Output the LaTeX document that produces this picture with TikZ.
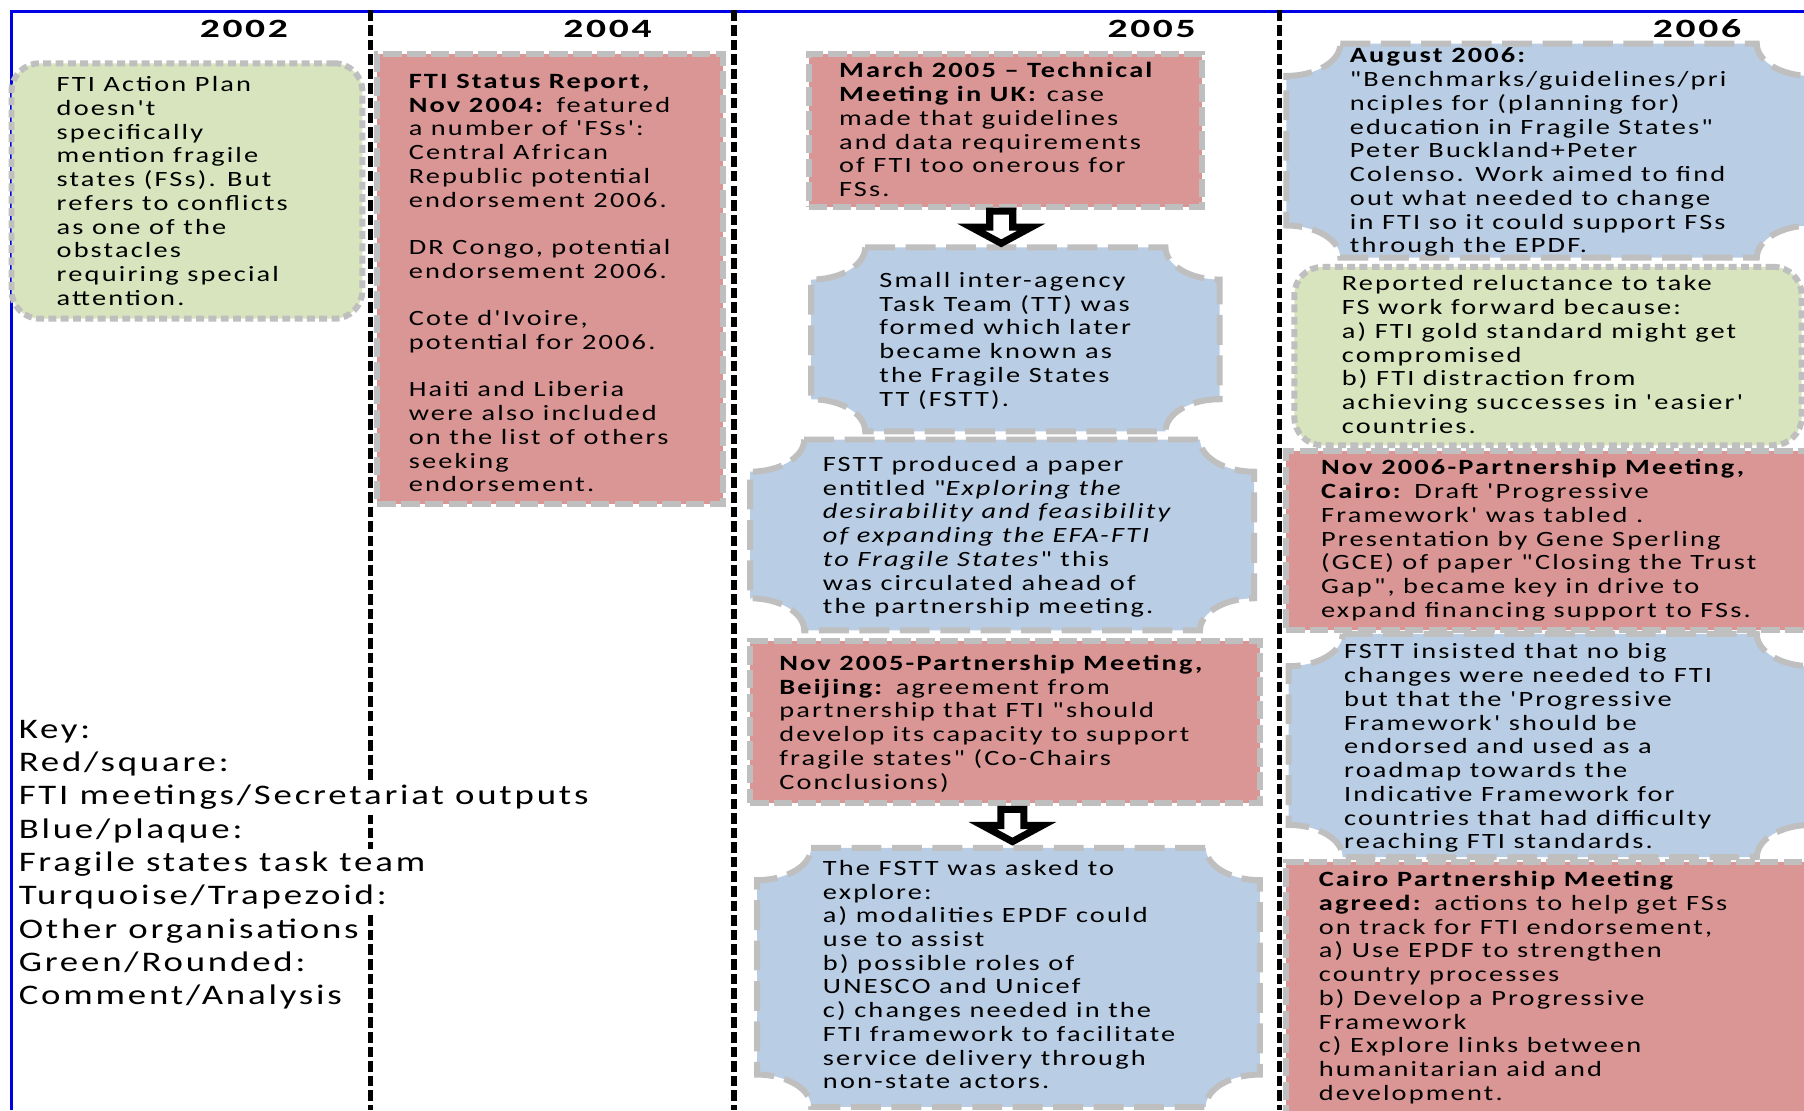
\documentclass[tikz,border=0pt]{standalone}
\usepackage{fontspec}
\setmainfont{Carlito}[Ligatures=TeXOff, FakeStretch=1.3, LetterSpace=10]
\usepackage{xcolor}
\usetikzlibrary{calc,fit,positioning}

\definecolor{redfill}{HTML}{D99694}
\definecolor{bluefill}{HTML}{B9CDE5}
\definecolor{greenfill}{HTML}{D7E4BD}
\definecolor{boxgrey}{HTML}{BFBFBF}
\definecolor{frameblue}{RGB}{0,0,230}

% corner sizes of the plaque boxes
\def\prx{47}
\def\pry{28}
\newcommand\plaque[1]{%
  \draw[bluebox] ($(#1.north west)+(\prx,0)$) -- ($(#1.north east)+(-\prx,0)$)
    .. controls ($(#1.north east)+(-\prx,.55*\pry)$) and ($(#1.north east)+(-.55*\prx,\pry)$) .. ($(#1.north east)+(0,\pry)$)
    -- ($(#1.south east)+(0,-\pry)$)
    .. controls ($(#1.south east)+(-.55*\prx,-\pry)$) and ($(#1.south east)+(-\prx,-.55*\pry)$) .. ($(#1.south east)+(-\prx,0)$)
    -- ($(#1.south west)+(\prx,0)$)
    .. controls ($(#1.south west)+(\prx,-.55*\pry)$) and ($(#1.south west)+(.55*\prx,-\pry)$) .. ($(#1.south west)+(0,-\pry)$)
    -- ($(#1.north west)+(0,\pry)$)
    .. controls ($(#1.north west)+(.55*\prx,\pry)$) and ($(#1.north west)+(\prx,.55*\pry)$) .. cycle;}

\tikzset{
  boxline/.style={draw=boxgrey, line width=3.4pt},
  redbox/.style={boxline, fill=redfill, dash pattern=on 10.5pt off 3pt, inner sep=0pt, outer sep=0pt},
  bluebox/.style={boxline, fill=bluefill, dash pattern=on 17pt off 6pt},
  greenbox/.style={boxline, fill=greenfill, dash pattern=on 4.5pt off 2.5pt, rounded corners=16pt, inner sep=0pt, outer sep=0pt},
  area/.style={inner sep=0pt, outer sep=0pt},
  boxtext/.style={anchor=north west, align=left, inner sep=0pt, font=\fontsize{12.4}{13.5}\selectfont},
  year/.style={font=\fontsize{15}{17}\selectfont\bfseries\addfontfeature{FakeStretch=1.5}},
  colline/.style={line width=3.2pt, dash pattern=on 6pt off 2.3pt},
  frameline/.style={draw=frameblue, line width=1.2pt},
  keyline/.style={anchor=base west, fill=white, inner xsep=0pt, inner ysep=0pt, text height=13pt, text depth=6pt, font=\fontsize{16.1}{19}\selectfont},
  blockarrow/.style={draw=black, fill=white, line width=4pt},
  downblock/.pic={\draw[blockarrow] (-10,-14) -- (-10,0) -- (-26,0) -- (0,14) -- (26,0) -- (10,0) -- (10,-14) -- cycle;}
}

\begin{document}
\begin{tikzpicture}[x=0.023cm, y=-0.023cm]
\useasboundingbox (0,0) rectangle (1568,965);
\clip (0,0) rectangle (1568,965);

% frame and year columns
\draw[frameline] (10,965) -- (10,10) -- (1568,10);
\foreach \x in {322,638,1112}
  \draw[colline] (\x,9) -- (\x,965);

\node[year] (y2002) at (212,25) {2002};
\node[year] (y2004) at (528,25) {2004};
\node[year] (y2005) at (1001,25) {2005};
\node[year] (y2006) at (1475,25) {2006};

% 2002
\node[greenbox, fit={(10,55) (315,277)}] (plan) {};
\node[boxtext] (plantxt) at (49,65) {\strut FTI Action Plan\\doesn't\\specifically\\mention fragile\\states (FSs). But\\refers to conflicts\\as one of the\\obstacles\\requiring special\\attention.};

% 2004
\node[redbox, fit={(328,47) (628,438)}] (status) {};
\node[boxtext] (statustxt) at (355,62) {\strut\textbf{FTI Status Report,}\\\textbf{Nov 2004:} featured\\a number of 'FSs':\\Central African\\Republic potential\\endorsement 2006.\\[13.5pt]DR Congo, potential\\endorsement 2006.\\[13.5pt]Cote d'Ivoire,\\potential for 2006.\\[13.5pt]Haiti and Liberia\\were also included\\on the list of others\\seeking\\endorsement.};

% 2005
\node[redbox, fit={(703,47) (1045,180)}] (march) {};
\node[boxtext] (marchtxt) at (729,53) {\strut\textbf{March 2005 – Technical}\\\textbf{Meeting in UK:} case\\made that guidelines\\and data requirements\\of FTI too onerous for\\FSs.};

\node[area, fit={(705,215) (1060,375)}] (tteam) {};
\plaque{tteam}
\node[boxtext] (tteamtxt) at (764,235) {\strut Small inter-agency\\Task Team (TT) was\\formed which later\\became known as\\the Fragile States\\TT (FSTT).};

\node[area, fit={(652,382) (1090,548)}] (paper) {};
\plaque{paper}
\node[boxtext] (papertxt) at (715,395) {\strut FSTT produced a paper\\entitled "\textit{Exploring the}\\\textit{desirability and feasibility}\\\textit{of expanding the EFA-FTI}\\\textit{to Fragile States}" this\\was circulated ahead of\\the partnership meeting.};

\node[redbox, fit={(652,557) (1095,698)}] (beijing) {};
\node[boxtext] (beijingtxt) at (677,568) {\strut\textbf{Nov 2005-Partnership Meeting,}\\\textbf{Beijing:} agreement from\\partnership that FTI "should\\develop its capacity to support\\fragile states" (Co-Chairs\\Conclusions)};

\node[area, fit={(658,737) (1095,962)}] (asked) {};
\plaque{asked}
\node[boxtext] (askedtxt) at (715,746) {\strut The FSTT was asked to\\explore:\\a) modalities EPDF could\\use to assist\\b) possible roles of\\UNESCO and Unicef\\c) changes needed in the\\FTI framework to facilitate\\service delivery through\\non-state actors.};

\pic at ($(march.south)!.5!(tteam.north)+(-8,0)$) {downblock};
\pic at ($(beijing.south)!.5!(asked.north)+(5,0)$) {downblock};

% 2006
\node[area, fit={(1118,38) (1574,224)}] (august) {};
\plaque{august}
\node[boxtext] (augusttxt) at (1173,40) {\strut\textbf{August 2006:}\\"Benchmarks/guidelines/pri\\nciples for (planning for)\\education in Fragile States"\\Peter Buckland+Peter\\Colenso. Work aimed to find\\out what needed to change\\in FTI so it could support FSs\\through the EPDF.};

\node[greenbox, fit={(1125,232) (1566,387)}] (reluct) {};
\node[boxtext] (reluctxt) at (1166,238) {\strut Reported reluctance to take\\FS work forward because:\\a) FTI gold standard might get\\compromised\\b) FTI distraction from\\achieving successes in 'easier'\\countries.};

\node[redbox, fit={(1118,392) (1580,548)}] (cairo) {};
\node[boxtext] (cairotxt) at (1148,398) {\strut\textbf{Nov 2006-Partnership Meeting,}\\\textbf{Cairo:} Draft 'Progressive\\Framework' was tabled .\\Presentation by Gene Sperling\\(GCE) of paper "Closing the Trust\\Gap", became key in drive to\\expand financing support to FSs.};

\node[area, fit={(1120,551) (1574,745)}] (insist) {};
\plaque{insist}
\node[boxtext] (insisttxt) at (1168,558) {\strut FSTT insisted that no big\\changes were needed to FTI\\but that the 'Progressive\\Framework' should be\\endorsed and used as a\\roadmap towards the\\Indicative Framework for\\countries that had difficulty\\reaching FTI standards.};

\node[redbox, fit={(1118,749) (1580,975)}] (agreed) {};
\node[boxtext] (agreedtxt) at (1146,756) {\strut\textbf{Cairo Partnership Meeting}\\\textbf{agreed:} actions to help get FSs\\on track for FTI endorsement,\\a) Use EPDF to strengthen\\country processes\\b) Develop a Progressive\\Framework\\c) Explore links between\\humanitarian aid and\\development.};

% key
\foreach \t [count=\i from 0] in {Key:, Red/square:, FTI meetings/Secretariat outputs, Blue/plaque:, Fragile states task team, Turquoise/Trapezoid:, Other organisations, Green/Rounded:, Comment/Analysis}
  \node[keyline] (key\i) at (16,641.5+29*\i) {\t};
\end{tikzpicture}
\end{document}
